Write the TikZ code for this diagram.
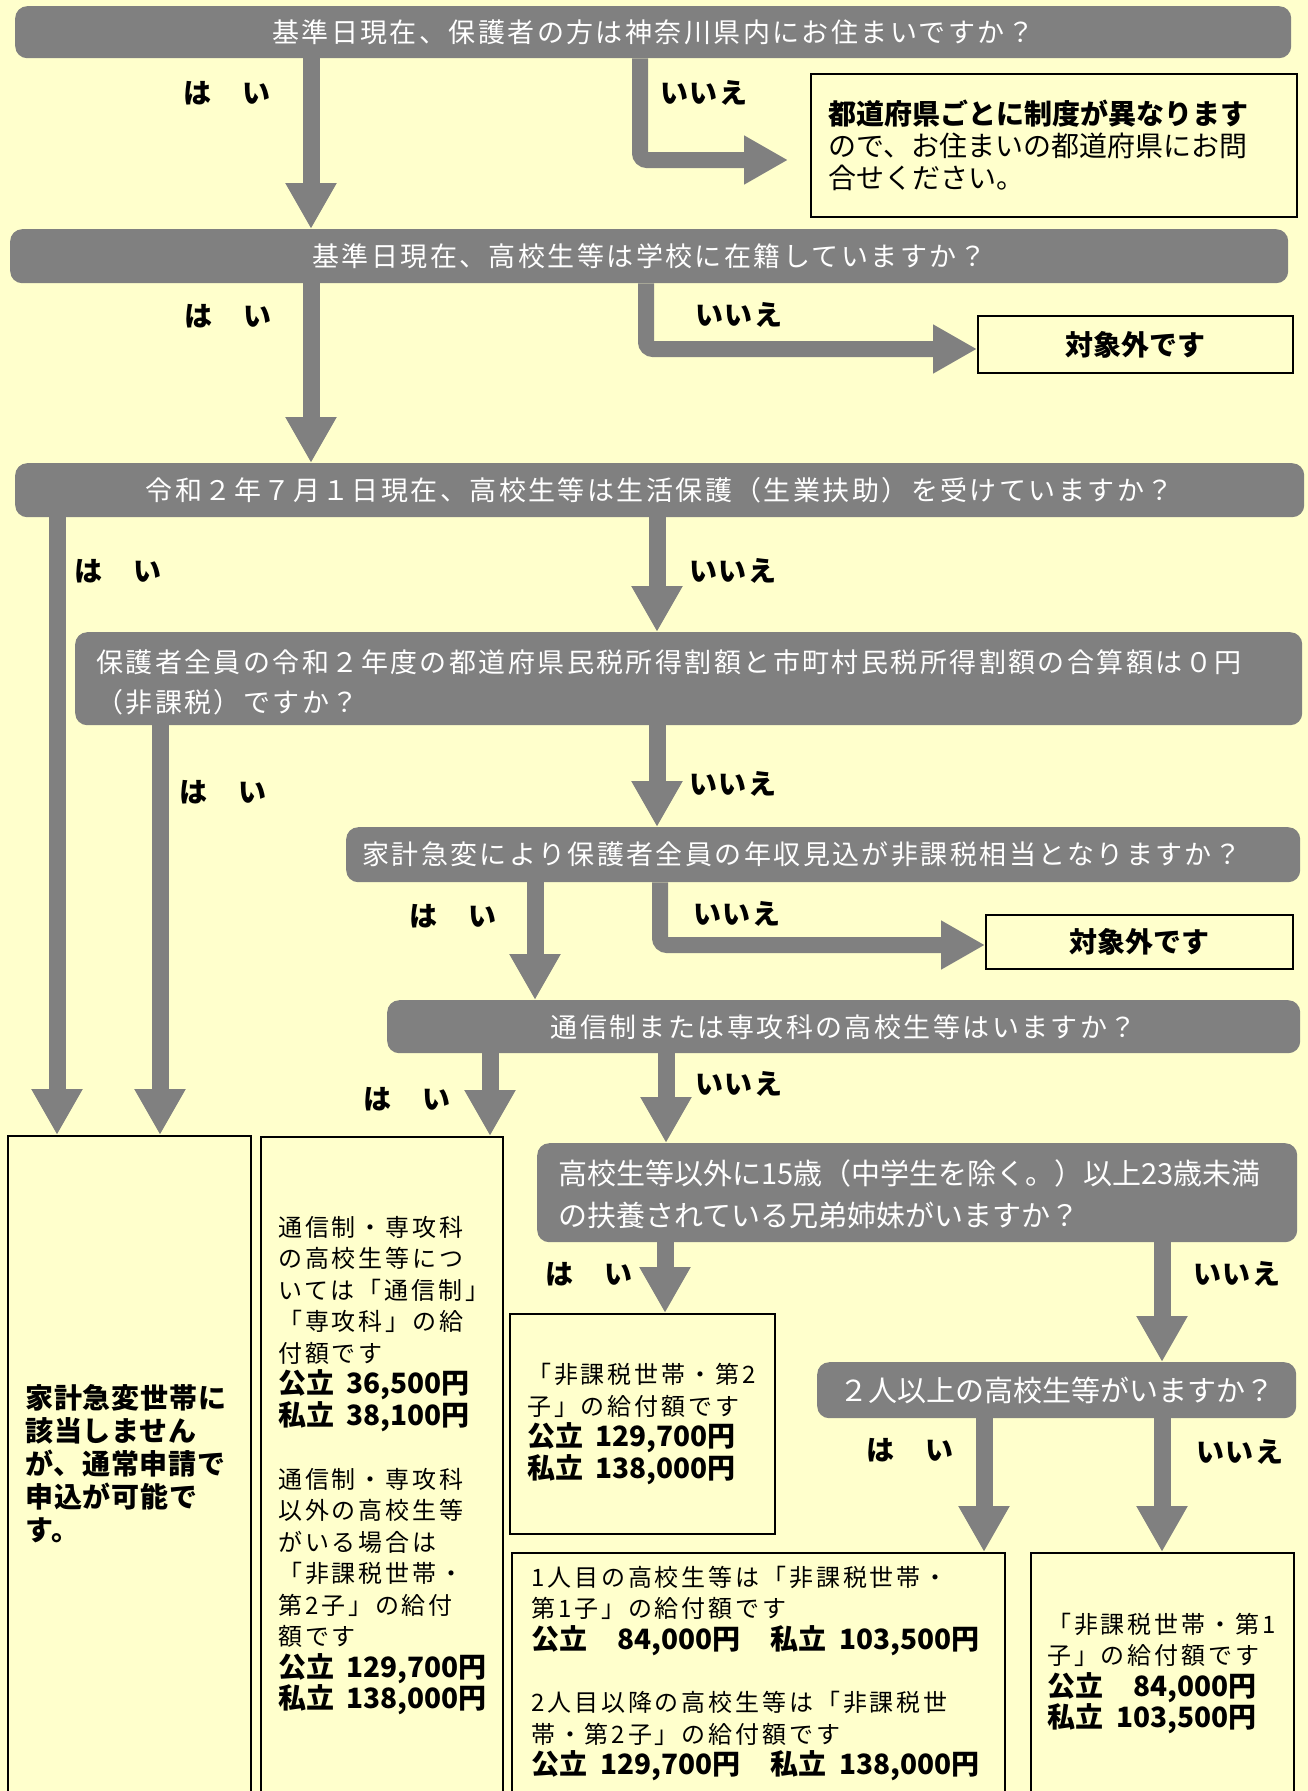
\documentclass[tikz,border=0pt]{standalone}
\usepackage{fontspec}
\setmainfont{Noto Sans CJK JP}
\usetikzlibrary{arrows.meta,calc}
\definecolor{bgc}{HTML}{FFFFCC}
\definecolor{gc}{HTML}{808080}
\newcommand\fQ{\fontsize{27}{40}\selectfont\addfontfeatures{LetterSpace=9}}
\newcommand\fQw{\fontsize{29}{42}\selectfont}
\newcommand\fLbl{\fontsize{28}{32}\selectfont\bfseries\addfontfeatures{LetterSpace=6}}
\newcommand\fBox{\fontsize{24}{31.5}\selectfont\addfontfeatures{LetterSpace=12}}
\newcommand\fNum{\fontsize{28}{31.5}\selectfont\bfseries\addfontfeatures{LetterSpace=0}}
\newcommand\fA{\fontsize{28}{33}\selectfont\bfseries\addfontfeatures{LetterSpace=3}}
\newcommand\fR{\fontsize{28}{32}\selectfont}
\tikzset{
  gbox/.style={fill=gc, draw=none, rounded corners=12pt, inner sep=0pt, anchor=north west, text=white},
  wbox/.style={fill=bgc, draw=black, line width=2pt, inner sep=0pt, anchor=north west},
  lbl/.style={font=\fLbl, text=black, inner sep=0pt},
  txt/.style={anchor=west, align=left, inner sep=0pt},
  arr/.style={draw=gc, line width=17pt, -{Triangle[width=48pt,length=46pt]}},
  arrb/.style={draw=gc, line width=16pt, rounded corners=7pt, -{Triangle[width=46pt,length=44pt]}}
}
\begin{document}
\begin{tikzpicture}[x=1pt,y=-1pt]
\useasboundingbox (0,0) rectangle (1308,1791);
\fill[bgc] (0,0) rectangle (1308,1791);

% question boxes
\node[gbox, minimum width=1276pt, minimum height=52pt, font=\fQ] (q1) at (15,6) {基準日現在、保護者の方は神奈川県内にお住まいですか？};
\node[gbox, minimum width=1278pt, minimum height=54pt, font=\fQ] (q2) at (10,229) {基準日現在、高校生等は学校に在籍していますか？};
\node[gbox, minimum width=1289pt, minimum height=54pt, font=\fQ] (q3) at (15,463) {令和２年７月１日現在、高校生等は生活保護（生業扶助）を受けていますか？};
\node[gbox, minimum width=1227pt, minimum height=93pt] (q4) at (75,632) {};
\node[txt, text=white, font=\fQ] (q4t) at ($(q4.west)+(21,4)$) {保護者全員の令和２年度の都道府県民税所得割額と市町村民税所得割額の合算額は０円\\（非課税）ですか？};
\node[gbox, minimum width=954pt, minimum height=55pt] (q5) at (346,827) {};
\node[txt, text=white, font=\fQ] (q5t) at ($(q5.west)+(16,0)$) {家計急変により保護者全員の年収見込が非課税相当となりますか？};
\node[gbox, minimum width=913pt, minimum height=53pt, font=\fQ] (q6) at (387,1000) {通信制または専攻科の高校生等はいますか？};
\node[gbox, minimum width=760pt, minimum height=99pt] (q7) at (537,1143) {};
\node[txt, text=white, font=\fQw] (q7t) at ($(q7.west)+(21,2)$) {高校生等以外に15歳（中学生を除く。）以上23歳未満\\の扶養されている兄弟姉妹がいますか？};
\node[gbox, minimum width=479pt, minimum height=56pt, font=\fQw] (q8) at (817,1362) {２人以上の高校生等がいますか？};

% result boxes
\node[wbox, minimum width=486pt, minimum height=143pt] (r1) at (810,73) {};
\node[txt, font=\fR] (r1t) at ($(r1.west)+(18,0)$) {{\bfseries 都道府県ごとに制度が異なります}\\ので、お住まいの都道府県にお問\\合せください。};
\node[wbox, minimum width=315pt, minimum height=57pt, font=\fR\bfseries] (r2) at (977,315) {対象外です};
\node[wbox, minimum width=307pt, minimum height=54pt, font=\fR\bfseries] (r3) at (985,914) {対象外です};

\node[wbox, minimum width=243pt, minimum height=658pt] (A) at (7,1135) {};
\node[txt, font=\fA] (At) at ($(A.west)+(18,-1)$) {家計急変世帯に\\該当しません\\が、通常申請で\\申込が可能で\\す。};

\node[wbox, minimum width=242pt, minimum height=657pt] (B) at (260,1136) {};
\node[txt, font=\fBox] (Bt) at ($(B.west)+(18,0)$) {通信制・専攻科\\の高校生等につ\\いては「通信制」\\「専攻科」の給\\付額です\\
{\fNum 公立\hspace{0.45em}36,500円}\\{\fNum 私立\hspace{0.45em}38,100円}\\[31.5pt]
通信制・専攻科\\以外の高校生等\\がいる場合は\\「非課税世帯・\\第2子」の給付\\額です\\
{\fNum 公立\hspace{0.45em}129,700円}\\{\fNum 私立\hspace{0.45em}138,000円}};

\node[wbox, minimum width=265pt, minimum height=220pt] (C) at (509,1313) {};
\node[txt, font=\fBox] (Ct) at ($(C.west)+(18,0)$) {「非課税世帯・第2\\子」の給付額です\\
{\fNum 公立\hspace{0.45em}129,700円}\\{\fNum 私立\hspace{0.45em}138,000円}};

\node[wbox, minimum width=493pt, minimum height=241pt] (D) at (511,1552) {};
\node[txt, font=\fBox] (Dt) at ($(D.west)+(20,0)$) {1人目の高校生等は「非課税世帯・\\第1子」の給付額です\\
{\fNum 公立\makebox[153pt][r]{84,000円}\hspace{1.1em}私立\hspace{0.45em}103,500円}\\[31pt]
2人目以降の高校生等は「非課税世\\帯・第2子」の給付額です\\
{\fNum 公立\makebox[153pt][r]{129,700円}\hspace{1.1em}私立\hspace{0.45em}138,000円}};

\node[wbox, minimum width=263pt, minimum height=241pt] (E) at (1030,1552) {};
\node[txt, font=\fBox] (Et) at ($(E.west)+(17,0)$) {「非課税世帯・第1\\子」の給付額です\\
{\fNum 公立\makebox[153pt][r]{84,000円}}\\{\fNum 私立\makebox[153pt][r]{103,500円}}};

% labels
\node[lbl] (h1) at (227,93) {は　い};
\node[lbl] (n1) at (704,93) {いいえ};
\node[lbl] (h2) at (228,316) {は　い};
\node[lbl] (n2) at (739,315) {いいえ};
\node[lbl] (h3) at (118,571) {は　い};
\node[lbl] (n3) at (733,571) {いいえ};
\node[lbl] (h4) at (223,792) {は　い};
\node[lbl] (n4) at (733,784) {いいえ};
\node[lbl] (h5) at (453,916) {は　い};
\node[lbl] (n5) at (737,914) {いいえ};
\node[lbl] (h6) at (407,1099) {は　い};
\node[lbl] (n6) at (739,1084) {いいえ};
\node[lbl] (h7) at (589,1274) {は　い};
\node[lbl] (n7) at (1237,1274) {いいえ};
\node[lbl] (h8) at (910,1450) {は　い};
\node[lbl] (n8) at (1240,1452) {いいえ};

% connectors
\coordinate (t1) at (788,160);
\draw[arrb] (q1.south -| 640,0) |- (t1);
\draw[arr] (q1.south -| 311,0) -- (q2.north -| 311,0);
\draw[arrb] (q2.south -| 646,0) |- (r2.west |- 0,349);
\draw[arr] (q2.south -| 311,0) -- (q3.north -| 311,0);
\draw[arr] (q3.south -| 57,0) -- (A.north -| 57,0);
\draw[arr] (q3.south -| 657,0) -- (q4.north -| 657,0);
\draw[arr] (q4.south -| 160,0) -- (A.north -| 160,0);
\draw[arr] (q4.south -| 657,0) -- (q5.north -| 657,0);
\draw[arr] (q5.south -| 535,0) -- (q6.north -| 535,0);
\draw[arrb] (q5.south -| 660,0) |- (r3.west |- 0,945);
\draw[arr] (q6.south -| 490,0) -- (B.north -| 490,0);
\draw[arr] (q6.south -| 666,0) -- (q7.north -| 666,0);
\draw[arr] (q7.south -| 665,0) -- (C.north -| 665,0);
\draw[arr] (q7.south -| 1162,0) -- (q8.north -| 1162,0);
\draw[arr] (q8.south -| 984,0) -- (D.north -| 984,0);
\draw[arr] (q8.south -| 1162,0) -- (E.north -| 1162,0);
\end{tikzpicture}
\end{document}
